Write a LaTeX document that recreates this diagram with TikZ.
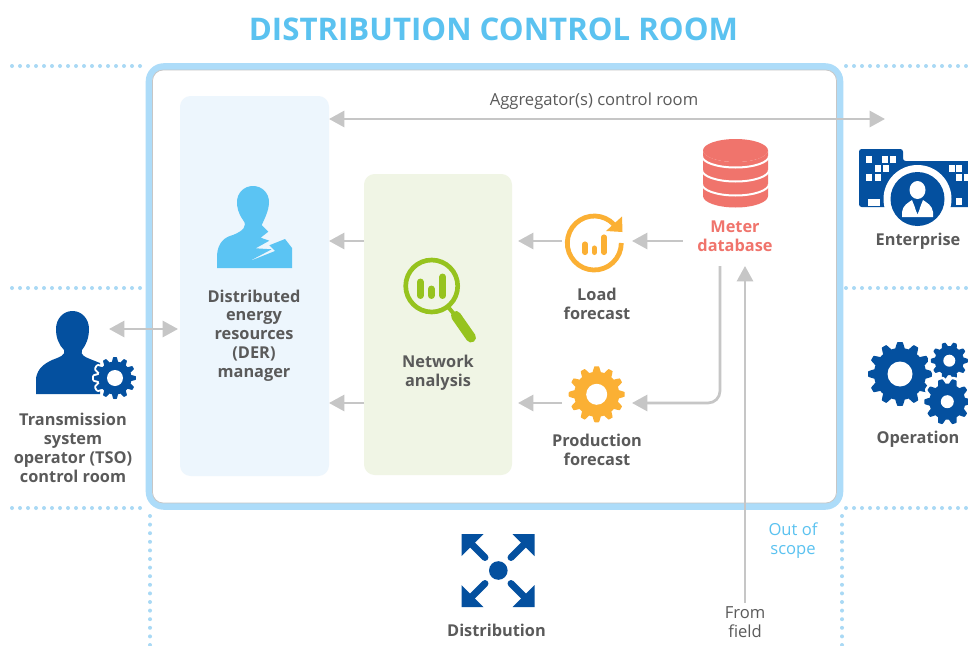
\documentclass[tikz,border=0pt]{standalone}
\usepackage{fontspec}
\setmainfont{Open Sans}
\usetikzlibrary{arrows.meta}
\definecolor{cborder}{HTML}{ADDCF9}
\definecolor{cdots}{HTML}{A9D9F5}
\definecolor{cgray}{HTML}{C6C6C6}
\definecolor{ctext}{HTML}{5A5A5A}
\definecolor{ctitle}{HTML}{5BC2F0}
\definecolor{cder}{HTML}{EDF6FD}
\definecolor{cnet}{HTML}{F0F5E5}
\definecolor{cdark}{HTML}{04509F}
\definecolor{csky}{HTML}{5BC4F3}
\definecolor{cgreen}{HTML}{96C31E}
\definecolor{corange}{HTML}{FBB034}
\definecolor{cred}{HTML}{F0746C}
\tikzset{
  dotline/.style={cdots,line width=3pt,line cap=round,dash pattern=on 0pt off 6pt},
  vdotline/.style={cdots,line width=3pt,line cap=round,dash pattern=on 0pt off 6.45pt},
  flow/.style={cgray,line width=2pt,-{Triangle[length=11.5pt,width=12pt]}},
  flowboth/.style={cgray,line width=2pt,{Triangle[length=11.5pt,width=12pt]}-{Triangle[length=11.5pt,width=12pt]}},
  boldlabel/.style={font=\bfseries\fontsize{12.25}{14.1}\selectfont,text=ctext,align=center,inner sep=0pt},
  pluslabel/.style={font=\fontsize{12.45}{14.1}\selectfont,text=ctext,align=center,inner sep=0pt},
  panelbox/.style={rectangle,rounded corners=8pt,inner sep=0pt,outer sep=0pt},
  iconbox/.style={rectangle,inner sep=0pt,outer sep=0pt,minimum width=52.5pt,minimum height=10pt}
}
% centre x, centre y, outer r, root r, hole r, teeth, colour, halo width
\newcommand{\gearshape}[8]{%
  \begin{scope}[shift={(#1,#2)}]
    \draw[white,line width=#8,line join=round] plot[domain=0:360,samples=241]
      (\x:{#4+(#3-#4)*(0.5+0.5*max(min(1.7*cos(#6*\x),1),-1))}) -- cycle;
    \fill[#7] plot[domain=0:360,samples=241]
      (\x:{#4+(#3-#4)*(0.5+0.5*max(min(1.7*cos(#6*\x),1),-1))}) -- cycle;
    \fill[white] (0,0) circle[radius=#5];
  \end{scope}}
\begin{document}
\begin{tikzpicture}[x=0.75pt,y=-0.75pt]
\useasboundingbox (0,0) rectangle (968,646);
\clip (0,0) rectangle (968,646);
\fill[white] (0,0) rectangle (968,646);

% dotted zone lines
\draw[dotline] (12,66) -- (143,66);
\draw[dotline] (12,288) -- (143,288);
\draw[dotline] (12,508) -- (143,508);
\draw[dotline] (846,66) -- (968,66);
\draw[dotline] (846,288) -- (968,288);
\draw[dotline] (846,508) -- (968,508);
\draw[vdotline] (150,516) -- (150,646);
\draw[vdotline] (842,516) -- (842,646);

% control room frame
\draw[cborder,line width=4.9pt,rounded corners=11pt,fill=white] (149,66.5) rectangle (840,506.5);
\draw[cgray,line width=0.6pt,rounded corners=8pt] (152.5,70) rectangle (836.5,503);

% panels
\node[panelbox,fill=cder,minimum width=111.75pt,minimum height=285pt] (der) at (254.5,286) {};
\node[panelbox,fill=cnet,minimum width=111pt,minimum height=225.75pt] (net) at (438,324.5) {};

% icon anchors
\node[iconbox] (loadicon) at (597,241) {};
\node[iconbox] (prodicon) at (597,403) {};
\coordinate (aggend) at (885,119);
\coordinate (aggrow) at (0,119);
\coordinate (meterout) at (720,266);
\coordinate (fieldtip) at (745,266);
\coordinate (tsoend) at (109,329);
\coordinate (dertip) at (178,329);

% titles and labels
\node[font=\bfseries\fontsize{23.4}{28}\selectfont,text=ctitle,inner sep=0pt] (title) at (493.5,29) {DISTRIBUTION CONTROL ROOM};
\node[pluslabel] (agg) at (594,101) {Aggregator(s) control room};
\node[boldlabel] (enterprise) at (918,241) {Enterprise};
\node[boldlabel] (operation) at (918,439) {Operation};
\node[boldlabel] (distribution) at (496.5,630.5) {Distribution};
\node[boldlabel] (tso) at (73,448) {Transmission\\system\\operator (TSO)\\control room};
\node[boldlabel] (derlabel) at (254,335.5) {Distributed\\energy\\resources\\(DER)\\manager};
\node[boldlabel] (netlabel) at (438,372.5) {Network\\analysis};
\node[boldlabel] (loadlabel) at (597,304) {Load\\forecast};
\node[boldlabel] (prodlabel) at (597,450) {Production\\forecast};
\node[boldlabel,text=cred,minimum width=78pt] (meter) at (735,236) {Meter\\database};
\node[pluslabel] (field) at (745,622.5) {From\\field};
\node[pluslabel,text=ctitle] (scope) at (793,540.5) {Out of\\scope};

% connectors
\draw[flowboth] (der.east |- aggrow) -- (aggend);
\draw[flow] (net.west |- loadicon) -- (der.east |- loadicon);
\draw[flow] (net.west |- prodicon) -- (der.east |- prodicon);
\draw[flow,shorten >=4.5pt] (loadicon.west) -- (net.east |- loadicon);
\draw[flow,shorten >=4.5pt] (prodicon.west) -- (net.east |- prodicon);
\draw[flow] (meter.west |- loadicon) -- (loadicon.east);
\draw[flow,rounded corners=9pt] (meterout) -- (meterout |- prodicon) -- (prodicon.east);
\draw[flow,shorten <=3pt] (field.north) -- (fieldtip);
\draw[flowboth] (tsoend) -- (dertip);

% DER manager person
\fill[csky] (217,268) -- (217,255) .. controls (218,242) and (225,237) .. (233,235)
  .. controls (243,231) and (248,226) .. (243,220)
  .. controls (238,213) and (237,207) .. (237,202)
  .. controls (237,193) and (244,186) .. (253,186)
  .. controls (262,186) and (269,193) .. (269,202)
  .. controls (269,210) and (265,218) .. (261.7,225)
  -- (268.3,231.7) -- (260.7,237.7) -- (269.3,240.7) -- (255.7,248.3) -- (271.7,249.3)
  -- (248.3,261.7) -- (275,251) -- (269.3,245.3) -- (285,239) -- (292,248) -- (292,268) -- cycle;

% TSO person with gear
\fill[cdark] (36,394) -- (36,378) .. controls (38,368) and (44,364) .. (52,360)
  .. controls (60,357) and (66,355) .. (64,350)
  .. controls (59,345) and (56,338) .. (56,329)
  .. controls (56,319) and (63,311) .. (72.5,311)
  .. controls (82,311) and (89,319) .. (89,329)
  .. controls (89,338) and (86,345) .. (82,350)
  .. controls (80,355) and (85,357) .. (90,359)
  -- (100,363) -- (100,394) -- cycle;
\gearshape{115}{378}{21}{16.5}{8}{12}{cdark}{3pt}

% network analysis magnifier
\draw[cgreen,line width=3.5pt] (431.7,286) circle[radius=26];
\draw[cgreen,line width=3pt] (449,308) -- (458,319);
\draw[cgreen,line width=7.5pt,line cap=round] (456,316) -- (471,337.5);
\draw[cgreen,line width=5.2pt,line cap=round] (420.3,282) -- (420.3,295.5);
\draw[cgreen,line width=5.2pt,line cap=round] (431.3,289) -- (431.3,295.5);
\draw[cgreen,line width=5.2pt,line cap=round] (442.7,277) -- (442.7,295.5);

% load forecast
\draw[corange,line width=3.6pt] (594.3,243) ++(-43:27) arc[start angle=-43,end angle=-360,radius=27];
\fill[corange] (622,216.5) -- (622.5,232) -- (606,231) -- cycle;
\draw[corange,line width=3.8pt,line cap=round] (585,244) -- (585,252.5);
\draw[corange,line width=3.8pt,line cap=round] (594.3,248) -- (594.3,252.5);
\draw[corange,line width=3.8pt,line cap=round] (604,237) -- (604,252.5);

% production gear
\gearshape{596.7}{394.3}{28}{22.5}{10.5}{12}{corange}{0pt}

% meter database
\fill[cred] (703,150.5) -- (703,196) arc[start angle=180,end angle=0,x radius=32.5,y radius=11.5] -- (768,150.5) arc[start angle=0,end angle=180,x radius=32.5,y radius=11.5] -- cycle;
\fill[cred] (735.5,150.5) ellipse[x radius=32.5,y radius=11.5];
\foreach \cy in {156,170,184}{
  \draw[white,line width=1.5pt] (702,\cy) arc[start angle=180,end angle=0,x radius=33.5,y radius=11.5];
}

% enterprise
\fill[cdark,rounded corners=2pt] (859,207) -- (859,149) -- (903,149) -- (903,161) -- (990,161) -- (990,207) -- cycle;
\foreach \wx/\wy in {869/159.5,885/159.5,893/159.5,877.7/168.5,886/168.5,869/177.5,877.7/177.5,951.7/168.5,959.3/168.5,959.3/177.5,966.7/177.5,959.3/201.5}{
  \fill[white] (\wx-3,\wy-3.5) rectangle (\wx+3,\wy+3.5);
}
\fill[white] (867.5,198.5) rectangle (879.5,205.7);
\fill[white] (917.5,199) circle[radius=34];
\fill[cdark] (917.5,199) circle[radius=27];
\fill[white] (917.5,190) ellipse[x radius=8,y radius=9];
\fill[white] (902,217) -- (902,212) .. controls (903,205) and (908,203) .. (912,200) -- (917.5,214) -- (923,200) .. controls (927,203) and (932,205) .. (933,212) -- (933,217) -- cycle;
\fill[cdark] (916,201) -- (919,201) -- (919.5,209) -- (917.5,214) -- (915.5,209) -- cycle;

% operation gears
\gearshape{900}{374}{32}{26}{12.5}{12}{cdark}{0pt}
\gearshape{949.3}{360.7}{18.5}{14.5}{6}{10}{cdark}{4pt}
\gearshape{947.3}{401.7}{23}{18}{6.5}{10}{cdark}{4pt}

% distribution
\fill[cdark] (498.3,570.5) circle[radius=9.3];
\foreach \sx/\sy in {1/1,-1/1,1/-1,-1/-1}{
  \begin{scope}[shift={(498,570.5)},xscale=\sx,yscale=\sy]
    \fill[cdark] (-36.5,-36.5) -- (-14.5,-36.5) -- (-36.5,-14.5) -- cycle;
    \draw[cdark,line width=5.2pt,line cap=round] (-26,-26) -- (-13,-13);
  \end{scope}
}
\end{tikzpicture}
\end{document}
